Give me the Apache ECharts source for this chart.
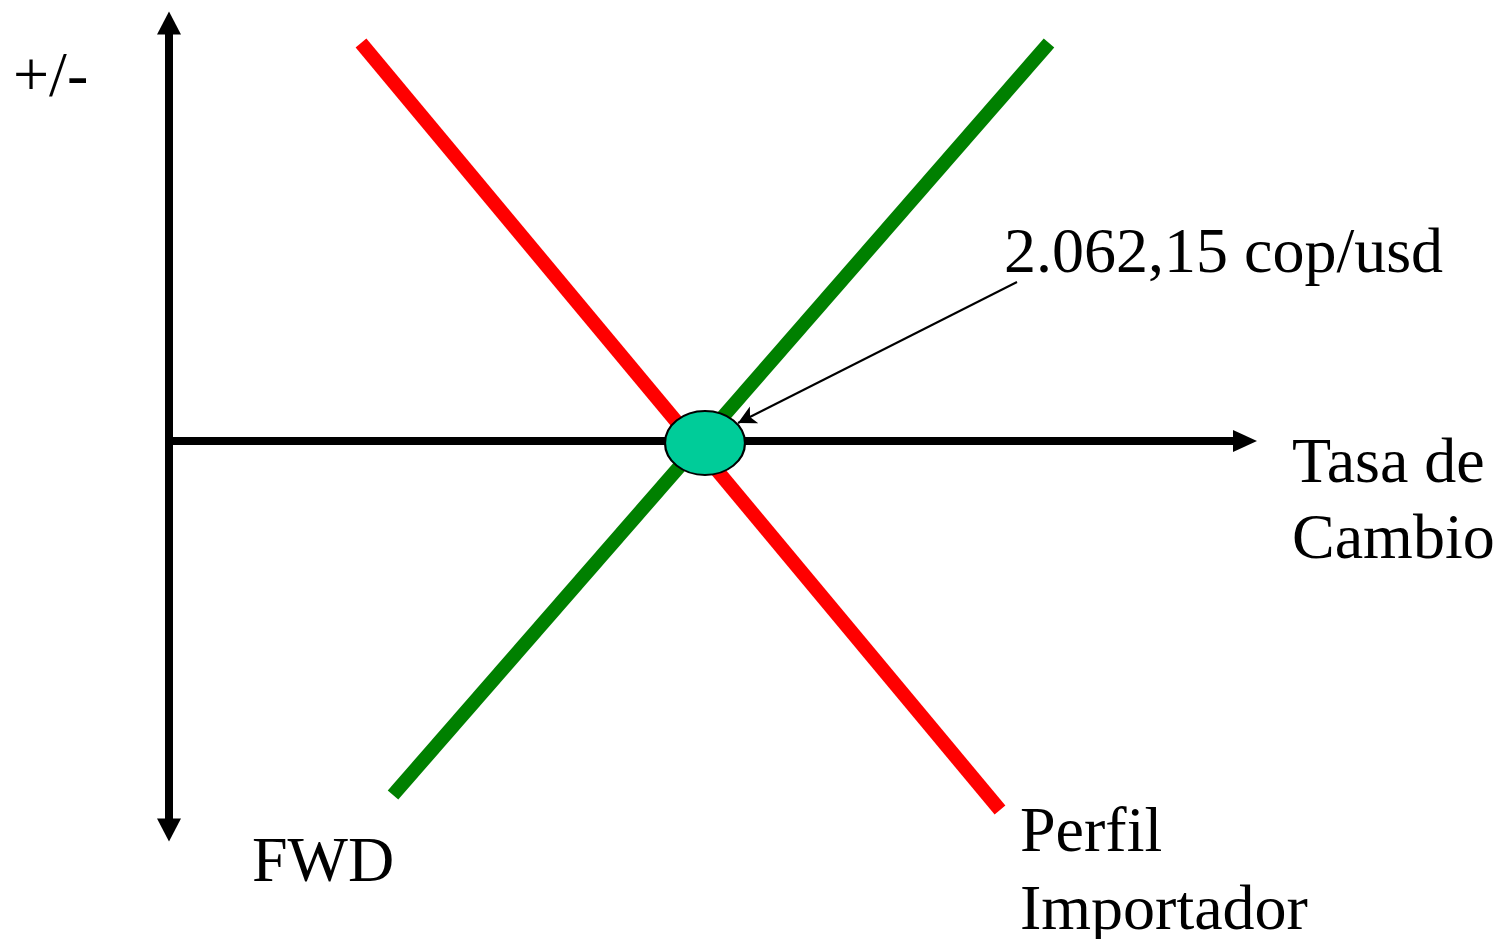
<!DOCTYPE html>
<html>
<head>
<meta charset="utf-8">
<script src="https://cdn.jsdelivr.net/npm/echarts@6/dist/echarts.min.js"></script>
<style>
  html, body { margin: 0; padding: 0; background: #ffffff; }
  #chart { width: 1499px; height: 939px; }
</style>
</head>
<body>
<div id="chart"></div>
<script>
// ---- data (x: exchange rate, y: +/- result; abstract units) ----
var perfilImportador = [[19.1, 39.8], [83.0, -36.9]];   // red line
var fwd = [[22.3, -35.4], [87.9, 39.8]];                // green line
var breakEven = [[53.5, -0.2]];                         // equilibrium point
var breakEvenLabel = '2.062,15 cop/usd';
var axisXName = ['Tasa de', 'Cambio'];
var axisYName = '+/-';
var redName = ['Perfil', 'Importador'];
var greenName = 'FWD';

var chart = echarts.init(document.getElementById('chart'), null, { renderer: 'canvas' });
var FONT = '64px "Liberation Serif", "Times New Roman", serif';

function txt(s, x, y) {
  return { type: 'text', x: x, y: y, silent: true,
    style: { text: s, font: FONT, fill: '#000000', align: 'left', verticalAlign: 'middle' } };
}

var option = {
  backgroundColor: '#ffffff',
  animation: false,
  grid: { left: 169, top: 23, width: 1076, height: 807 },
  xAxis: {
    type: 'value', min: -0.1, max: 107.5,
    axisLine: { show: true, onZero: true, symbol: ['none', 'triangle'], symbolSize: [22, 24],
      lineStyle: { color: '#000000', width: 8 } },
    axisTick: { show: false }, axisLabel: { show: false }, splitLine: { show: false }
  },
  yAxis: {
    type: 'value', min: -38.9, max: 41.8,
    axisLine: { show: true, onZero: false, symbol: ['triangle', 'triangle'], symbolSize: [24, 23],
      lineStyle: { color: '#000000', width: 8 } },
    axisTick: { show: false }, axisLabel: { show: false }, splitLine: { show: false }
  },
  series: [
    { type: 'line', name: 'FWD', data: fwd, symbol: 'none', clip: false, silent: true,
      lineStyle: { color: '#008000', width: 14, cap: 'butt' }, z: 2 },
    { type: 'line', name: 'Perfil Importador', data: perfilImportador, symbol: 'none', clip: false, silent: true,
      lineStyle: { color: '#FF0000', width: 14, cap: 'butt' }, z: 2 },
    { type: 'scatter', data: breakEven, symbol: 'circle', symbolSize: [80, 64], silent: true, z: 3,
      itemStyle: { color: '#00CC99', borderColor: '#000000', borderWidth: 2, opacity: 1 },
      markLine: {
        silent: true, animation: false, symbolSize: [14, 18],
        label: { show: false },
        lineStyle: { color: '#000000', width: 2, type: 'solid' },
        data: [[ { coord: [84.7, 15.9], symbol: 'none' }, { coord: [56.8, 1.8], symbol: 'arrow' } ]]
      }
    }
  ],
  graphic: [
    txt(axisYName, 13, 79),
    txt(breakEvenLabel, 1004, 255),
    txt(axisXName[0], 1292, 465),
    txt(axisXName[1], 1292, 541),
    txt(redName[0], 1020, 834),
    txt(redName[1], 1020, 912),
    txt(greenName, 252, 864)
  ]
};
chart.setOption(option);
</script>
</body>
</html>
